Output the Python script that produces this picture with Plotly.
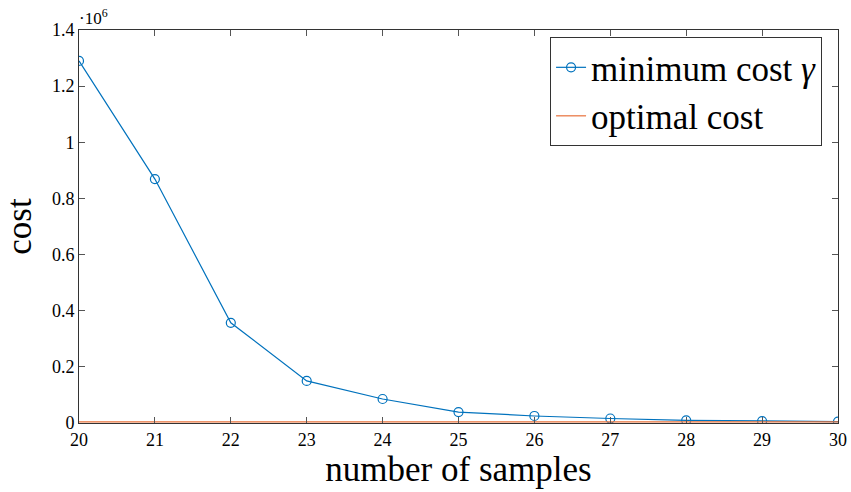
import plotly.graph_objects as go

samples = [20, 21, 22, 23, 24, 25, 26, 27, 28, 29, 30]
min_cost = [1.29e6, 0.869e6, 0.357e6, 0.150e6, 0.0855e6, 0.039e6, 0.025e6, 0.016e6, 0.0097e6, 0.007e6, 0.005e6]
optimal_cost = [4000] * len(samples)
ytick_vals = [0, 0.2e6, 0.4e6, 0.6e6, 0.8e6, 1.0e6, 1.2e6, 1.4e6]
ytick_text = ["0", "0.2", "0.4", "0.6", "0.8", "1", "1.2", "1.4"]

font = "Liberation Serif"

fig = go.Figure()
fig.add_trace(go.Scatter(
    x=samples, y=min_cost, mode="lines+markers", name="minimum cost <i>γ</i>",
    line=dict(color="#0072BD", width=1.2),
    marker=dict(symbol="circle-open", size=9, color="#0072BD", line=dict(width=1.2)),
))
fig.add_trace(go.Scatter(
    x=samples, y=optimal_cost, mode="lines", name="optimal cost",
    line=dict(color="#E8703A", width=1.2),
))

axis_common = dict(
    showline=True, linecolor="#333", linewidth=1, mirror="ticks",
    ticks="inside", ticklen=6, tickcolor="#555", showgrid=False, zeroline=False,
    tickfont=dict(family=font, size=18, color="black"), automargin=False,
)
fig.update_layout(
    width=851, height=492,
    margin=dict(l=79, r=13, t=30, b=69),
    paper_bgcolor="white", plot_bgcolor="white",
    font=dict(family=font, color="black"),
    xaxis=dict(range=[20, 30], tickvals=samples,
               title=dict(text="number of samples", font=dict(family=font, size=35), standoff=5),
               **axis_common),
    yaxis=dict(range=[0, 1.4e6], tickvals=ytick_vals, ticktext=ytick_text,
               title=dict(text="cost", font=dict(family=font, size=35), standoff=12),
               **axis_common),
    legend=dict(x=0.979, y=0.982, xanchor="right", yanchor="top",
                bgcolor="white", bordercolor="#333", borderwidth=1,
                font=dict(family=font, size=35), tracegroupgap=0,
                itemwidth=30),
    showlegend=True,
)
fig.add_annotation(text="·10<sup>6</sup>", xref="paper", yref="paper", x=0, y=1,
                   xanchor="left", yanchor="bottom", showarrow=False,
                   font=dict(family=font, size=17), xshift=-2, yshift=0)

fig.write_html("out.html", config={"displayModeBar": False},
               post_script="document.body.style.margin='0';")
